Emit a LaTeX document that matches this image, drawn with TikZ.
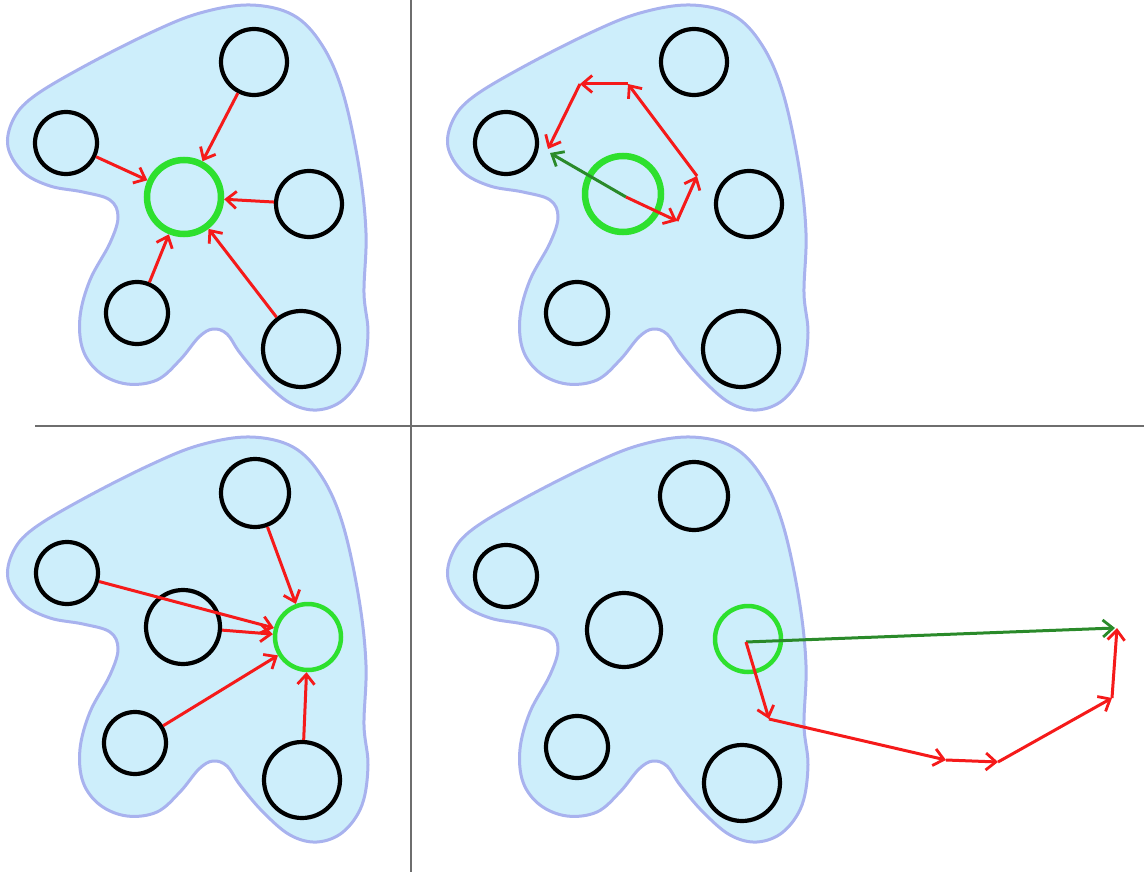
\documentclass[tikz,border=0pt]{standalone}
\usetikzlibrary{arrows.meta}
\definecolor{blobfill}{HTML}{CDEEFB}
\definecolor{blobline}{HTML}{A8B2EE}
\definecolor{hilite}{HTML}{2EE02E}
\definecolor{pathred}{HTML}{F51A1A}
\definecolor{sumgreen}{HTML}{2A8A2A}
\definecolor{rule}{HTML}{6E6E6E}
\tikzset{
  blob/.style={fill=blobfill, draw=blobline, line width=3pt},
  pt/.style={circle, draw=black, line width=4.2pt, inner sep=0pt, minimum size=#1},
  hub/.style={circle, draw=hilite, line width=#1, inner sep=0pt},
  vec/.style={draw=pathred, line width=3pt, -{Straight Barb[length=10pt,width=17pt,line width=2.8pt]}},
  sum/.style={draw=sumgreen, line width=3pt, -{Straight Barb[length=10pt,width=17pt,line width=2.8pt]}},
  sep/.style={draw=rule, line width=2pt}
}
\newcommand{\blobshape}{%
  plot[smooth cycle, tension=0.6] coordinates {
    (250,5) (293,15) (322,45) (343,93) (359,167) (366,233) (364,293)
    (368,333) (362,373) (343,400) (317,410) (290,403) (263,380) (240,353)
    (227,334) (213,329) (199,337) (180,360) (157,380) (127,384) (100,373)
    (83,350) (80,317) (90,280) (110,243) (118,217) (110,200) (83,192)
    (50,186) (23,172) (8,147) (13,120) (33,97) (83,67) (150,33) (200,13)}}
\begin{document}
\begin{tikzpicture}[x=1pt, y=-1pt]
\useasboundingbox (0,0) rectangle (1144,872);

% quadrant separators
\draw[sep] (411,0) -- (411,872);
\draw[sep] (35,426) -- (1144,426);

% ---- top left: all neighbours pull on the marked point
\begin{scope}
  \path[blob] \blobshape;
  \node[pt=66pt] (a1) at (254,62) {};
  \node[pt=62pt] (b1) at (66,143) {};
  \node[hub=6.5pt, minimum size=74pt] (g1) at (184,197) {};
  \node[pt=66pt] (c1) at (309,204) {};
  \node[pt=62pt] (d1) at (137,313) {};
  \node[pt=76pt] (e1) at (301,349) {};
  \draw[vec] (a1) -- (g1);
  \draw[vec] (b1) -- (g1);
  \draw[vec] (c1) -- (g1);
  \draw[vec] (d1) -- (g1);
  \draw[vec] (e1) -- (g1);
\end{scope}

% ---- top right: forces added head to tail
\begin{scope}[shift={(440,0)}]
  \path[blob] \blobshape;
  \node[pt=66pt] (a2) at (254,62) {};
  \node[pt=62pt] (b2) at (66,143) {};
  \node[hub=6.5pt, minimum size=76pt] (g2) at (183,194) {};
  \node[pt=66pt] (c2) at (309,204) {};
  \node[pt=62pt] (d2) at (137,313) {};
  \node[pt=76pt] (e2) at (301,349) {};
  \coordinate (p20) at (186,197);
  \coordinate (p21) at (237,221);
  \coordinate (p22) at (257,176);
  \coordinate (p23) at (188,84);
  \coordinate (p24) at (140,84);
  \coordinate (p25) at (108,149);
  \coordinate (q25) at (110,153);
  \draw[sum] (p20) -- (q25);
  \draw[vec] (p20) -- (p21);
  \draw[vec] (p21) -- (p22);
  \draw[vec] (p22) -- (p23);
  \draw[vec] (p23) -- (p24);
  \draw[vec] (p24) -- (p25);
\end{scope}

% ---- bottom left: marked point moved
\begin{scope}[shift={(0,432)}]
  \path[blob] \blobshape;
  \node[pt=68pt] (a3) at (255,61) {};
  \node[pt=62pt] (b3) at (67,141) {};
  \node[pt=74pt] (m3) at (183,195) {};
  \node[hub=4.5pt, minimum size=66pt] (g3) at (308,205) {};
  \node[pt=62pt] (d3) at (135,311) {};
  \node[pt=76pt] (e3) at (302,348) {};
  \draw[vec] (a3) -- (g3);
  \draw[vec] (b3) -- (g3);
  \draw[vec] (m3) -- (g3);
  \draw[vec] (d3) -- (g3);
  \draw[vec] (e3) -- (g3);
\end{scope}

% ---- bottom right: resulting sum leaves the region
\begin{scope}[shift={(440,432)}]
  \path[blob] \blobshape;
  \node[pt=68pt] (a4) at (254,64) {};
  \node[pt=62pt] (b4) at (66,144) {};
  \node[pt=74pt] (m4) at (184,198) {};
  \node[hub=4.5pt, minimum size=66pt] (g4) at (308,207) {};
  \node[pt=62pt] (d4) at (137,315) {};
  \node[pt=76pt] (e4) at (302,351) {};
  \coordinate (p40) at (306,210);
  \coordinate (p41) at (329,287);
  \coordinate (p42) at (506,328);
  \coordinate (p43) at (558,330);
  \coordinate (p44) at (672,266);
  \coordinate (p45) at (677,196);
  \coordinate (q45) at (675,196);
  \draw[sum] (p40) -- (q45);
  \draw[vec] (p40) -- (p41);
  \draw[vec] (p41) -- (p42);
  \draw[vec] (p42) -- (p43);
  \draw[vec] (p43) -- (p44);
  \draw[vec] (p44) -- (p45);
\end{scope}
\end{tikzpicture}
\end{document}
